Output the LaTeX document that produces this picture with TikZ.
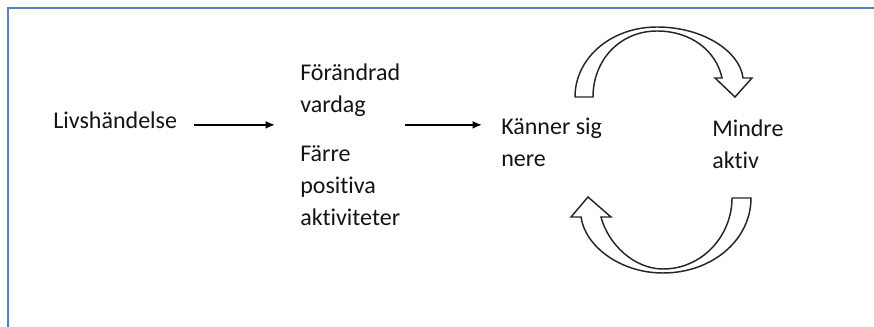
\documentclass[tikz,border=0pt]{standalone}
\usepackage{fontspec}
\setmainfont{Carlito}[Ligatures={NoCommon}]
\usetikzlibrary{arrows.meta}
\definecolor{frameblue}{RGB}{84,130,190}
\definecolor{txt}{RGB}{20,20,20}
\tikzset{
  lbl/.style={anchor=north west, inner sep=0pt, align=left, text=txt,
    font=\fontsize{18}{24}\selectfont},
  arr/.style={line width=1.6pt, -{Latex[length=7pt,width=6pt]}},
  bent/.style={draw=black!85, line width=1.1pt, fill=white, line join=miter},
}
\begin{document}
\begin{tikzpicture}[x=0.75pt,y=-0.75pt]
\useasboundingbox (0,0) rectangle (874,327);
\draw[frameblue, line width=1.6pt] (8,327) -- (8,8) -- (874,8);

% top of node = first baseline - 22.4px (strut height 16.8pt)
\node[lbl] (liv) at (53,105.6) {\strut Livshändelse};
\node[lbl] (forv) at (300,57.6) {\strut Förändrad\\vardag};
\node[lbl] (farre) at (300,138.6) {\strut Färre\\positiva\\aktiviteter};
\node[lbl] (kan) at (501,111.6) {\strut Känner sig\\nere};
\node[lbl] (mind) at (712,113.6) {\strut Mindre\\aktiv};

\coordinate (a1s) at ([xshift=17*0.75pt, yshift=-3*0.75pt]liv.east);
\draw[arr] (a1s) -- ([xshift=-25*0.75pt]a1s -| forv.west);
\coordinate (a2s) at ([xshift=5*0.75pt]a1s -| farre.east);
\draw[arr] (a2s) -- ([xshift=-19*0.75pt]a2s -| kan.west);

% top curved arrow
\draw[bent] (575,97) .. controls (575,58) and (611,27) .. (657,27)
  .. controls (704,27) and (740,52) .. (743,78)
  -- (752,78) -- (735,97) -- (715,78) -- (722,78)
  .. controls (716,50) and (690,31) .. (657,31)
  .. controls (620,31) and (593,60) .. (593,97) -- cycle;

% bottom curved arrow
\draw[bent] (751,198) .. controls (751,240) and (712,273) .. (663,273)
  .. controls (620,273) and (585,246) .. (581,217)
  -- (571,217) -- (588,197) -- (611,217) -- (601,217)
  .. controls (608,244) and (634,269) .. (663,269)
  .. controls (702,269) and (732,236) .. (732,198) -- cycle;
\end{tikzpicture}
\end{document}
